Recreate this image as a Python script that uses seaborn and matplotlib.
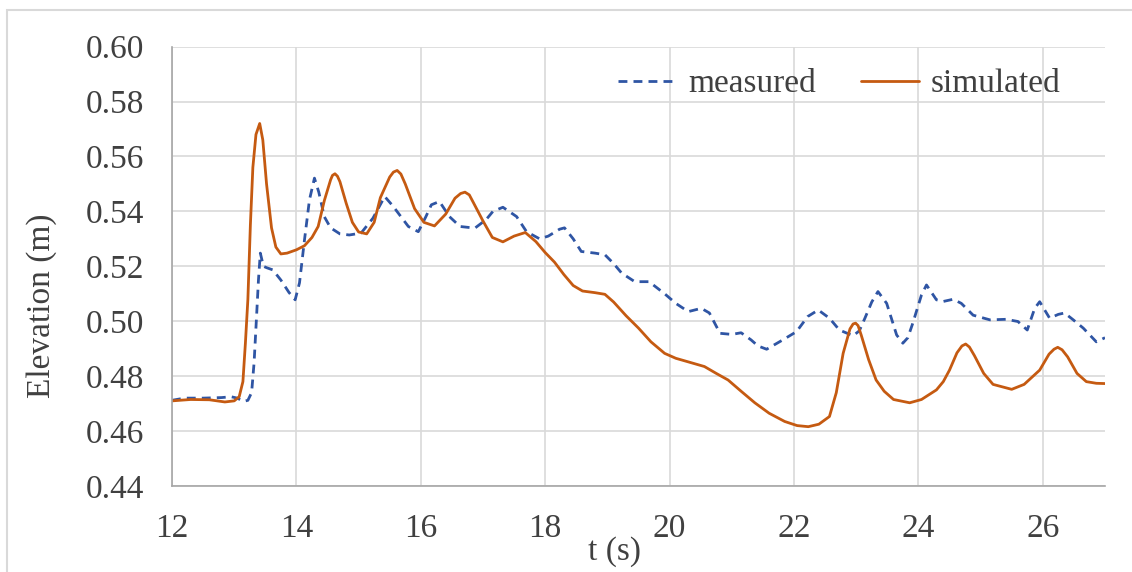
import matplotlib
matplotlib.use("Agg")
import matplotlib.pyplot as plt
from matplotlib.patches import Rectangle
import pandas as pd
import seaborn as sns

# Measured free-surface elevation (gauge record)
t_measured = [12.00, 12.20, 12.50, 12.80, 12.95, 13.05, 13.15, 13.22, 13.28, 13.32,
              13.36, 13.39, 13.42, 13.47, 13.52, 13.62, 13.75, 13.88, 13.98, 14.05,
              14.13, 14.21, 14.29, 14.36, 14.45, 14.55, 14.70, 14.85, 15.04, 15.23,
              15.42, 15.55, 15.65, 15.80, 15.96, 16.08, 16.17, 16.30, 16.46, 16.63,
              16.87, 17.05, 17.16, 17.32, 17.45, 17.54, 17.70, 17.91, 18.05, 18.23,
              18.31, 18.45, 18.58, 18.80, 18.96, 19.10, 19.23, 19.44, 19.67, 19.92,
              20.10, 20.30, 20.51, 20.64, 20.81, 21.00, 21.15, 21.31, 21.42, 21.56,
              21.82, 22.04, 22.22, 22.39, 22.57, 22.73, 22.95, 23.05, 23.14, 23.25,
              23.35, 23.49, 23.65, 23.75, 23.83, 23.91, 24.05, 24.13, 24.29, 24.40,
              24.56, 24.69, 24.88, 25.15, 25.41, 25.60, 25.75, 25.87, 25.95, 26.11,
              26.25, 26.35, 26.49, 26.65, 26.86, 27.00]
eta_measured = [0.4712, 0.4720, 0.4720, 0.4722, 0.4725, 0.4720, 0.4708, 0.4712, 0.4740, 0.4850,
                0.5020, 0.5150, 0.5248, 0.5200, 0.5195, 0.5187, 0.5150, 0.5105, 0.5078, 0.5140,
                0.5296, 0.5442, 0.5521, 0.5470, 0.5380, 0.5340, 0.5318, 0.5314, 0.5321, 0.5375,
                0.5454, 0.5420, 0.5390, 0.5345, 0.5326, 0.5380, 0.5424, 0.5436, 0.5381, 0.5345,
                0.5339, 0.5370, 0.5400, 0.5415, 0.5395, 0.5381, 0.5326, 0.5300, 0.5310, 0.5335,
                0.5340, 0.5300, 0.5254, 0.5248, 0.5242, 0.5210, 0.5175, 0.5144, 0.5144, 0.5100,
                0.5065, 0.5035, 0.5047, 0.5030, 0.4956, 0.4952, 0.4958, 0.4932, 0.4910, 0.4898,
                0.4932, 0.4962, 0.5017, 0.5041, 0.5011, 0.4968, 0.4947, 0.4965, 0.5011, 0.5070,
                0.5108, 0.5065, 0.4950, 0.4920, 0.4940, 0.4993, 0.5096, 0.5132, 0.5078, 0.5072,
                0.5080, 0.5065, 0.5022, 0.5005, 0.5007, 0.4999, 0.4968, 0.5047, 0.5071, 0.5011,
                0.5025, 0.5030, 0.5005, 0.4975, 0.4925, 0.4940]

# Simulated free-surface elevation (model output)
t_simulated = [12.00, 12.30, 12.60, 12.85, 13.00, 13.08, 13.14, 13.18, 13.22, 13.26,
               13.30, 13.35, 13.41, 13.46, 13.52, 13.60, 13.67, 13.75, 13.85, 14.00,
               14.13, 14.25, 14.35, 14.45, 14.55, 14.58, 14.62, 14.66, 14.70, 14.80,
               14.90, 15.00, 15.13, 15.25, 15.35, 15.50, 15.56, 15.62, 15.68, 15.75,
               15.90, 16.05, 16.22, 16.40, 16.55, 16.64, 16.71, 16.78, 16.85, 17.00,
               17.15, 17.32, 17.50, 17.68, 17.85, 18.00, 18.15, 18.30, 18.45, 18.60,
               18.80, 18.96, 19.10, 19.30, 19.50, 19.70, 19.92, 20.10, 20.30, 20.56,
               20.75, 20.94, 21.15, 21.37, 21.60, 21.85, 22.05, 22.23, 22.40, 22.57,
               22.68, 22.79, 22.90, 22.95, 22.99, 23.03, 23.08, 23.20, 23.32, 23.45,
               23.60, 23.86, 24.05, 24.29, 24.40, 24.50, 24.62, 24.70, 24.76, 24.82,
               24.90, 25.05, 25.20, 25.50, 25.70, 25.95, 26.10, 26.18, 26.24, 26.31,
               26.40, 26.55, 26.70, 26.86, 27.00]
eta_simulated = [0.4710, 0.4715, 0.4714, 0.4706, 0.4710, 0.4725, 0.4780, 0.4920, 0.5080, 0.5350,
                 0.5560, 0.5680, 0.5720, 0.5660, 0.5500, 0.5340, 0.5270, 0.5245, 0.5248, 0.5260,
                 0.5275, 0.5305, 0.5345, 0.5440, 0.5515, 0.5531, 0.5537, 0.5528, 0.5508, 0.5430,
                 0.5360, 0.5325, 0.5318, 0.5360, 0.5450, 0.5525, 0.5543, 0.5549, 0.5536, 0.5500,
                 0.5410, 0.5360, 0.5347, 0.5390, 0.5448, 0.5465, 0.5470, 0.5460, 0.5430, 0.5365,
                 0.5305, 0.5289, 0.5310, 0.5323, 0.5290, 0.5250, 0.5215, 0.5170, 0.5130, 0.5110,
                 0.5104, 0.5098, 0.5070, 0.5020, 0.4975, 0.4925, 0.4883, 0.4865, 0.4852, 0.4835,
                 0.4810, 0.4786, 0.4745, 0.4703, 0.4665, 0.4635, 0.4620, 0.4616, 0.4625, 0.4653,
                 0.4740, 0.4883, 0.4972, 0.4990, 0.4993, 0.4984, 0.4950, 0.4860, 0.4786, 0.4745,
                 0.4715, 0.4703, 0.4715, 0.4750, 0.4780, 0.4822, 0.4885, 0.4910, 0.4917, 0.4906,
                 0.4875, 0.4810, 0.4770, 0.4752, 0.4770, 0.4822, 0.4880, 0.4898, 0.4905, 0.4896,
                 0.4870, 0.4810, 0.4780, 0.4774, 0.4773]

x_ticks = [12, 14, 16, 18, 20, 22, 24, 26]
y_ticks = [0.44, 0.46, 0.48, 0.50, 0.52, 0.54, 0.56, 0.58, 0.60]
series_names = ["measured", "simulated"]

df = pd.concat([
    pd.DataFrame({"t": t_measured, "eta": eta_measured, "series": series_names[0]}),
    pd.DataFrame({"t": t_simulated, "eta": eta_simulated, "series": series_names[1]}),
], ignore_index=True)

sns.set_style("white")
plt.rcParams["font.family"] = ["Liberation Serif", "DejaVu Serif"]
text_color = "#404040"
grid_color = "#d9d9d9"
FS = 24

fig = plt.figure(figsize=(11.32, 5.72), dpi=100)
ax = fig.add_axes([172 / 1132, 1 - 486 / 572, (1105 - 172) / 1132, (486 - 46.6) / 572])

palette = {"measured": "#2F55A4", "simulated": "#C55A11"}
sns.lineplot(data=df, x="t", y="eta", hue="series", style="series",
             palette=palette, dashes={"measured": (3.2, 2.2), "simulated": ""},
             estimator=None, sort=False, linewidth=2.0, ax=ax, legend=True)
for line in ax.get_lines():
    line.set_solid_joinstyle("round")
    line.set_dash_joinstyle("round")

ax.set_xlim(12, 27)
ax.set_ylim(0.44, 0.60)
ax.set_xticks(x_ticks)
ax.set_yticks(y_ticks)
ax.set_xticklabels([str(v) for v in x_ticks])
ax.set_yticklabels([f"{v:.2f}" for v in y_ticks])
ax.tick_params(axis="both", length=0, labelsize=FS, colors=text_color)
ax.tick_params(axis="y", pad=20)
ax.tick_params(axis="x", pad=20)
ax.grid(True, color=grid_color, linewidth=1.2)
ax.set_axisbelow(True)
for side in ("top", "right"):
    ax.spines[side].set_visible(False)
for side in ("left", "bottom"):
    ax.spines[side].set_color("#a6a6a6")
    ax.spines[side].set_linewidth(1.2)
ax.set_xlabel("")
ax.set_ylabel("")

fig.text(42 / 1132, 1 - 306 / 572, "Elevation (m)", rotation=90, ha="center", va="center",
         fontsize=FS, color=text_color)
fig.text(615 / 1132, 1 - 552 / 572, "t (s)", ha="center", va="center",
         fontsize=FS, color=text_color)

handles, labels = ax.get_legend_handles_labels()
leg = ax.legend(handles, labels, loc="center", ncol=2, frameon=False,
                bbox_to_anchor=((620 + 1059) / 2 / 1132, 1 - 84 / 572),
                bbox_transform=fig.transFigure, fontsize=FS,
                handlelength=1.75, handletextpad=0.35, columnspacing=1.35, borderpad=0)
for txt in leg.get_texts():
    txt.set_color(text_color)

# light frame around the chart area
fig.patches.append(Rectangle((7 / 1132, -0.05), 1.1, 1 - 10 / 572 + 0.05,
                             transform=fig.transFigure, fill=False,
                             edgecolor=grid_color, linewidth=1.5))

fig.savefig("out.png", dpi=100)
